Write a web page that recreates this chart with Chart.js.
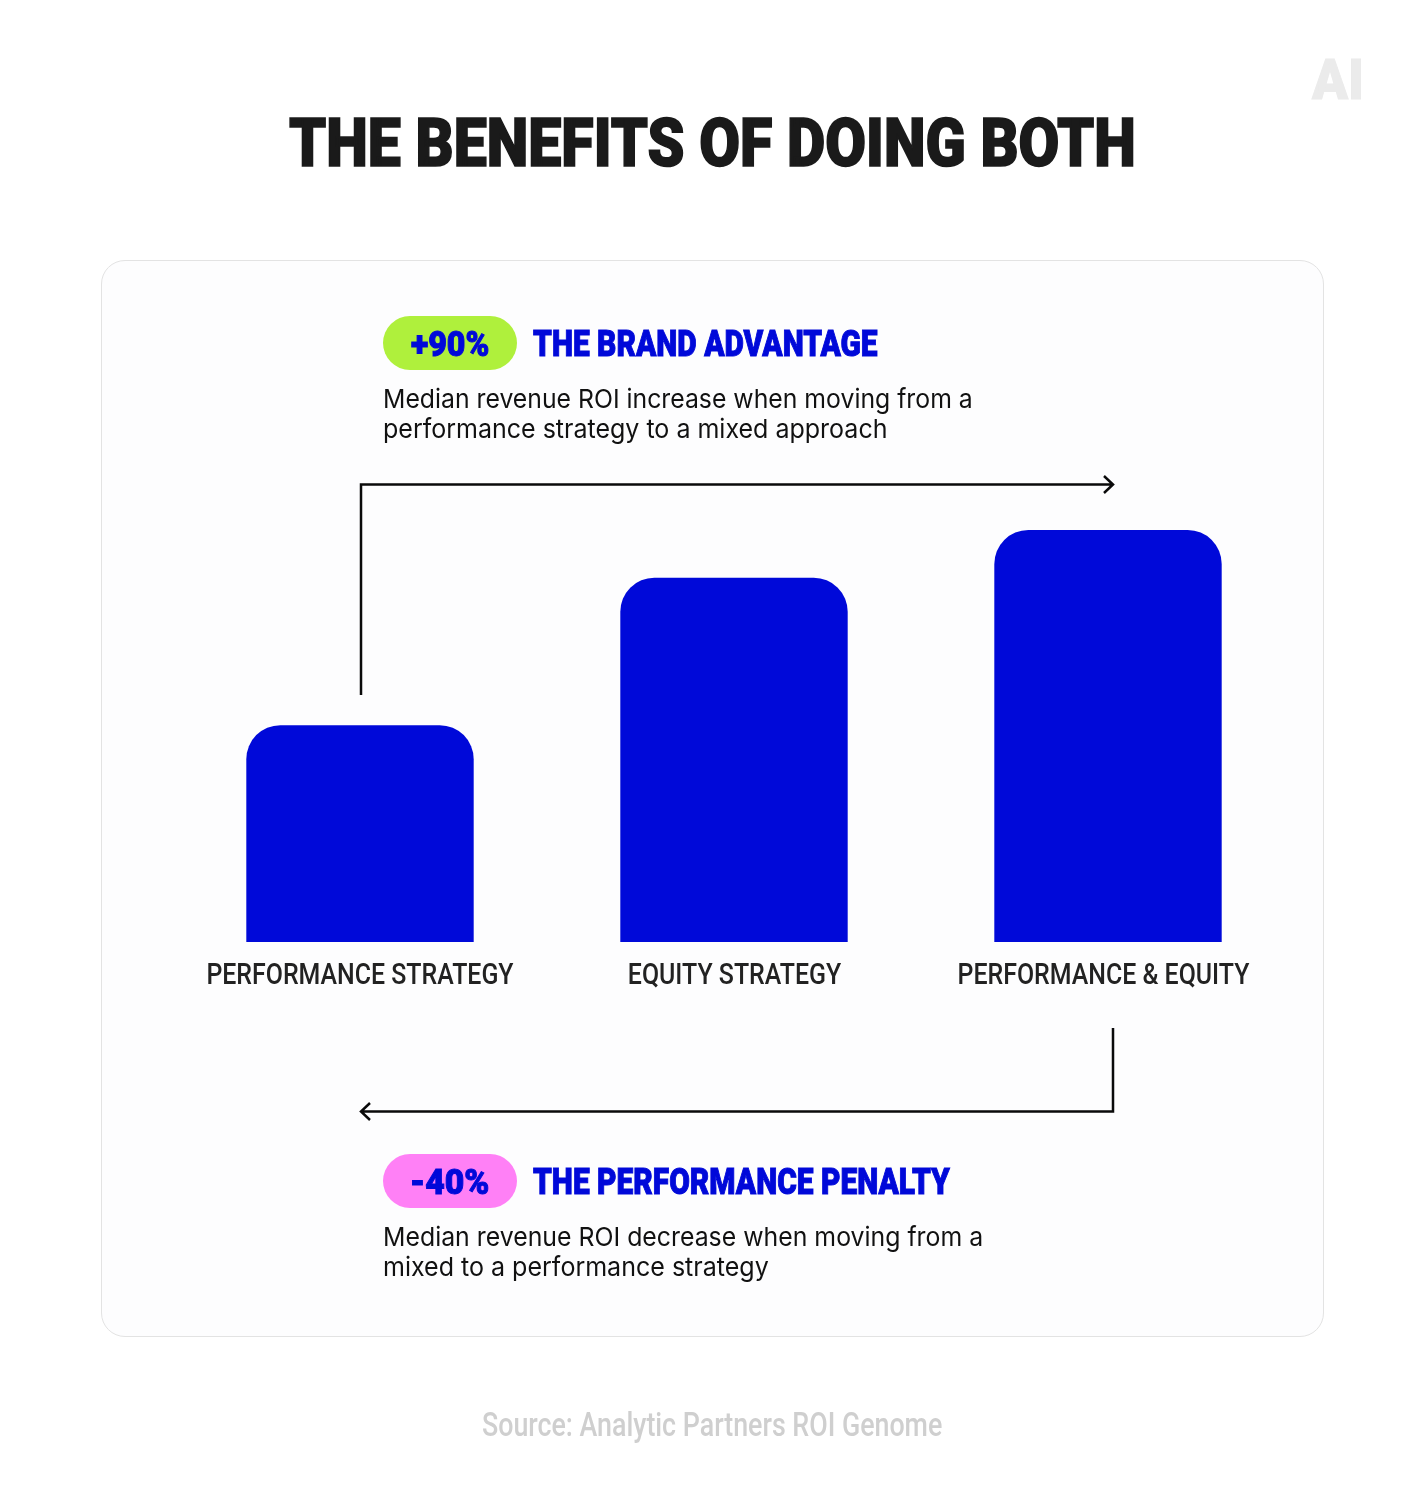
<!DOCTYPE html>
<html>
<head>
<meta charset="utf-8">
<title>The benefits of doing both</title>
<script src="https://cdn.jsdelivr.net/npm/chart.js@4"></script>
<style>
  html, body { margin: 0; padding: 0; background: #fff; }
  #page { position: relative; width: 1424px; height: 1499px; overflow: hidden; }
  #panel { position: absolute; left: 101px; top: 260px; width: 1221px; height: 1075px;
           background: #fdfdfe; border: 1px solid #e3e3e3; border-radius: 24px; }
  #grafico { position: absolute; left: 0; top: 0; }
  .pill { position: absolute; left: 383px; width: 134px; height: 54px; border-radius: 27px; }
  .t { position: absolute; white-space: nowrap; transform-origin: left center; line-height: 1; }
  .head { font-family: Roboto, sans-serif; font-weight: 900; color: #0009d9; -webkit-text-stroke: 1px #0009d9; }
  .desc { font-family: Inter, sans-serif; font-weight: 400; color: #111; font-size: 26px; }
</style>
</head>
<body>
<div id="page">
  <div id="panel"></div>
  <div class="pill" style="top:316px;background:#aff03c"></div>
  <div class="pill" style="top:1154px;background:#ff80f6"></div>
  <canvas id="grafico" width="1424" height="1499"></canvas>
</div>
<script>
const categories = ["PERFORMANCE STRATEGY", "EQUITY STRATEGY", "PERFORMANCE & EQUITY"];
const roiValues = [100, 168, 190];
const barColor = "#0009d9";

// text: string, x, centre y, target width, font size, class, extra style
const texts = [
  ["THE BENEFITS OF DOING BOTH", 289, 144, 847, 66, "head", "color:#1a1a1a;-webkit-text-stroke:1.6px #1a1a1a"],
  ["AI", 1312, 80, 52, 56, "head", "color:#ebebeb;-webkit-text-stroke:1px #ebebeb"],
  ["+90%", 411, 344, 78, 35, "head", ""],
  ["THE BRAND ADVANTAGE", 533, 344, 345, 36, "head", ""],
  ["Median revenue ROI increase when moving from a", 383, 399, 590, 26, "desc", ""],
  ["performance strategy to a mixed approach", 383, 429, 504, 26, "desc", ""],
  ["-40%", 410, 1182, 79, 35, "head", ""],
  ["THE PERFORMANCE PENALTY", 533, 1182, 417, 36, "head", ""],
  ["Median revenue ROI decrease when moving from a", 383, 1237, 600, 26, "desc", ""],
  ["mixed to a performance strategy", 383, 1267, 386, 26, "desc", ""],
  ["Source: Analytic Partners ROI Genome", 482, 1424, 460, 34, "src", "font-family:Roboto,sans-serif;font-weight:500;color:#cfcfcf"]
];

const page = document.getElementById("page");
texts.forEach(function(t) {
  const el = document.createElement("div");
  el.className = "t " + t[5];
  el.textContent = t[0];
  el.style.cssText = "left:" + t[1] + "px;top:" + (t[2] - t[4] / 2) + "px;font-size:" + t[4] + "px;" + t[6];
  page.appendChild(el);
  el.style.transform = "scaleX(" + (t[3] / el.offsetWidth) + ")";
});

// no condensed face is installed, so the axis labels get squeezed when drawn
const tickSqueeze = 0.83;
const tickShift = [0, 0.5, -4.5];
const tickFont = "500 30px Roboto, sans-serif";

const narrowTicks = {
  id: "narrowTicks",
  beforeDraw(chart) {
    const x = chart.scales.x;
    x.drawLabels = function() {
      const c = chart.ctx;
      c.save();
      c.font = tickFont;
      c.fillStyle = "#222";
      c.textAlign = "center";
      c.textBaseline = "middle";
      categories.forEach(function(label, i) {
        c.save();
        c.translate(x.getPixelForValue(i) + tickShift[i], x.top + 34);
        c.scale(tickSqueeze, 1);
        c.fillText(label, 0, 0);
        c.restore();
      });
      c.restore();
    };
  }
};

// the two elbow arrows, placed from the bar centres
const arrows = {
  id: "arrows",
  afterDatasetsDraw(chart) {
    const c = chart.ctx;
    const x = chart.scales.x;
    const left = x.getPixelForValue(0);
    const right = x.getPixelForValue(2) + 5;
    c.save();
    c.strokeStyle = "#0a0a0a";
    c.lineWidth = 2.5;
    c.beginPath();
    c.moveTo(left + 1, 695);
    c.lineTo(left + 1, 484.5);
    c.lineTo(right, 484.5);
    c.moveTo(right - 9, 476);
    c.lineTo(right, 484.5);
    c.lineTo(right - 9, 493);
    c.moveTo(right, 1028);
    c.lineTo(right, 1111.5);
    c.lineTo(left + 1, 1111.5);
    c.moveTo(left + 10, 1103);
    c.lineTo(left + 1, 1111.5);
    c.lineTo(left + 10, 1120);
    c.stroke();
    c.restore();
  }
};

new Chart(document.getElementById("grafico"), {
  type: "bar",
  data: {
    labels: categories,
    datasets: [{
      data: roiValues,
      backgroundColor: barColor,
      borderRadius: 34,
      barPercentage: 0.608,
      categoryPercentage: 1
    }]
  },
  options: {
    responsive: false,
    animation: false,
    layout: { padding: { left: 173, right: 129, top: 530, bottom: 0 } },
    plugins: { legend: { display: false }, tooltip: { enabled: false } },
    scales: {
      x: {
        grid: { display: false },
        border: { display: false },
        ticks: { maxRotation: 0, autoSkip: false, font: { family: "Roboto, sans-serif", size: 30, weight: "500" } },
        afterFit: function(s) { s.height = 557; }
      },
      y: { display: false, min: 0, max: 190 }
    }
  },
  plugins: [narrowTicks, arrows]
});
</script>
</body>
</html>
